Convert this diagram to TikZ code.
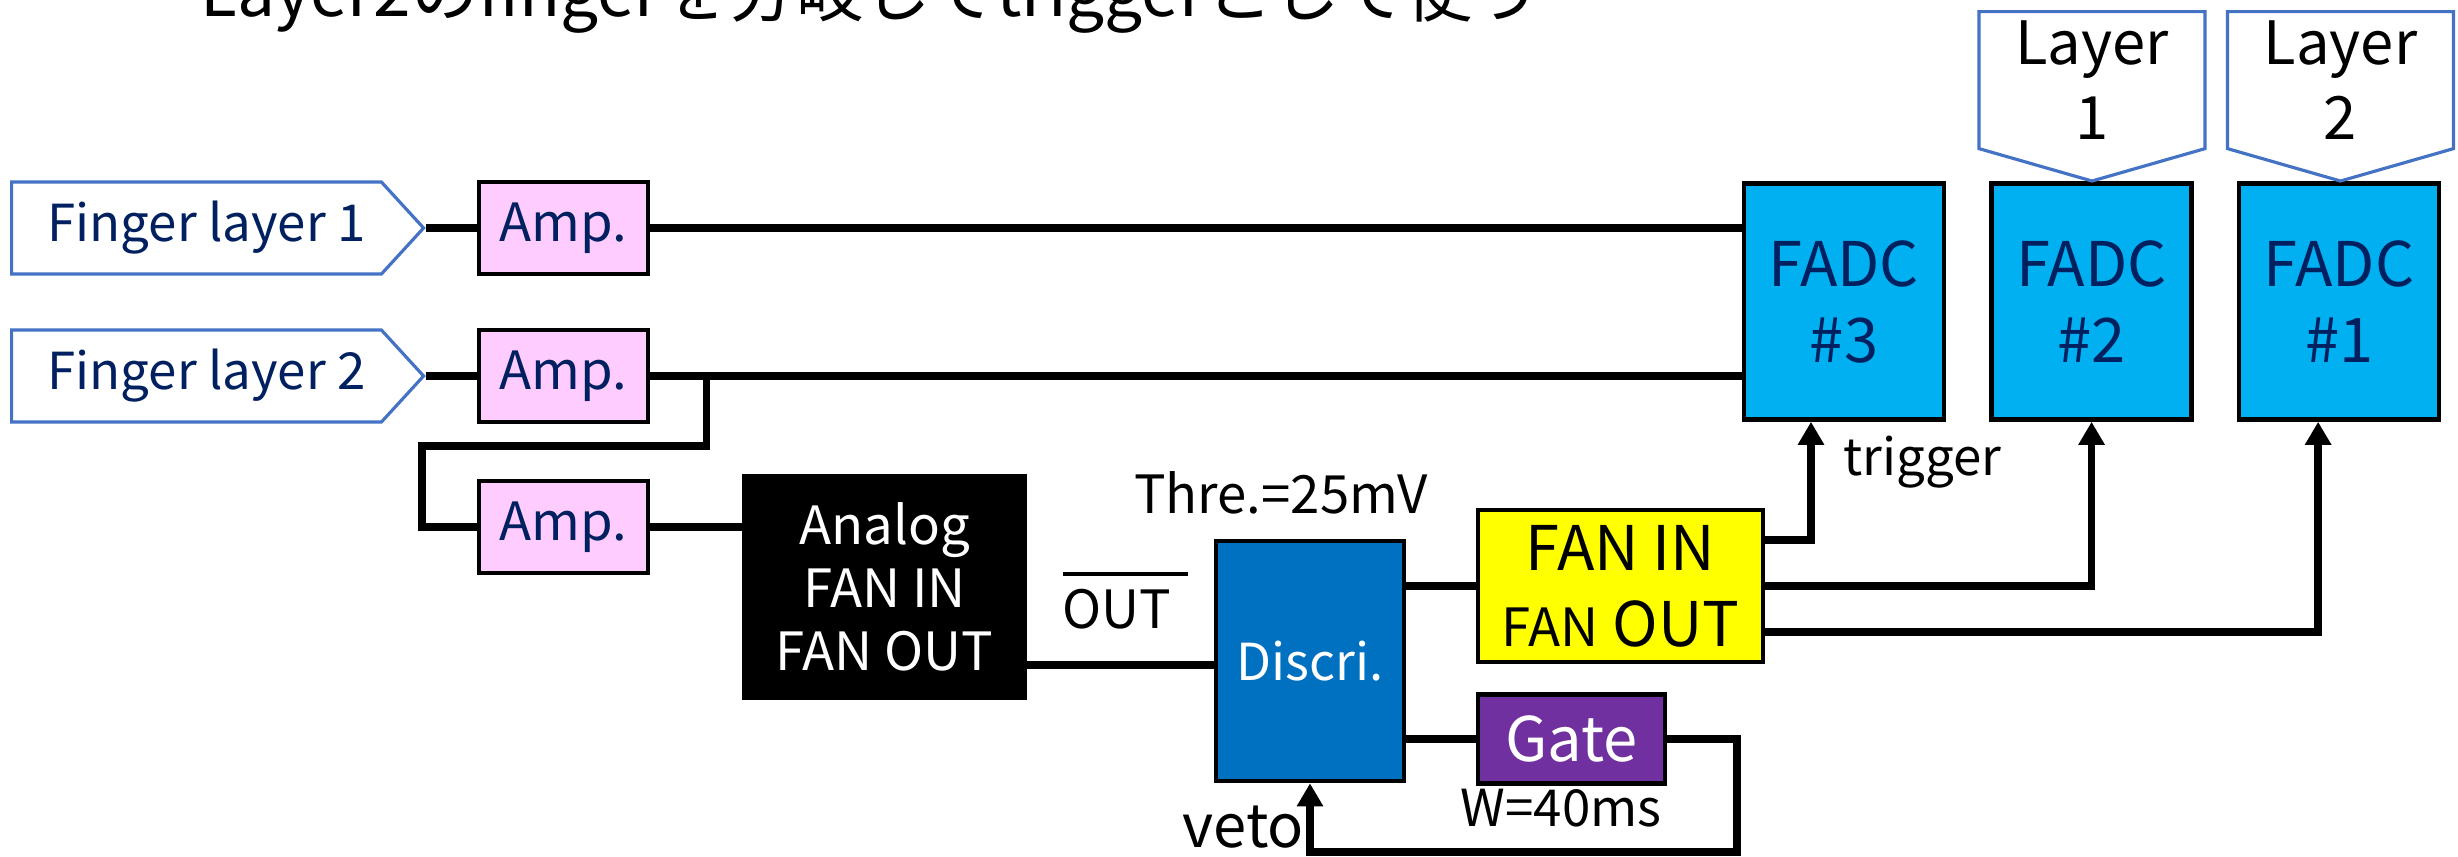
\documentclass[tikz,border=0pt]{standalone}
\usepackage{fontspec}
\setmainfont{Noto Sans CJK JP}
\usetikzlibrary{arrows.meta,positioning,calc,shapes.symbols}
\definecolor{FrameBlue}{HTML}{4472C4}
\definecolor{TextNavy}{HTML}{002060}
\definecolor{AmpPink}{HTML}{FFCCFF}
\definecolor{FadcCyan}{HTML}{00B0F0}
\definecolor{DiscBlue}{HTML}{0070C0}
\definecolor{GateViolet}{HTML}{7030A0}
\definecolor{FanYellow}{HTML}{FFFF00}
\newcommand{\fs}[2]{\fontsize{#1}{#2}\selectfont}
\newcommand{\barred}[1]{\leavevmode\vbox{\hrule height 1.1pt\kern 3.6pt\hbox{#1\kern 0.17cm}}}
\tikzset{
  fingerbox/.style={signal, signal to=east, signal pointer angle=95, draw=FrameBlue, fill=white, line width=0.9pt, minimum width=4.12cm, minimum height=0.92cm, text=TextNavy, font=\fs{14.5}{18}, execute at begin node=\hspace*{0.2cm}},
  layerbox/.style={signal, signal to=south, signal pointer angle=148, draw=FrameBlue, fill=white, line width=0.9pt, minimum width=2.26cm, minimum height=1.59cm, align=center, font=\fs{17}{21.3}},
  ampbox/.style={draw=black, fill=AmpPink, line width=1.1pt, minimum width=1.69cm, minimum height=0.92cm, text=TextNavy, font=\fs{15}{18}},
  fadcbox/.style={draw=black, fill=FadcCyan, line width=1.3pt, minimum width=2.0cm, minimum height=2.36cm, align=center, text=TextNavy, font=\fs{17.5}{21.6}},
  wire/.style={line width=2.2pt, draw=black},
  arrow/.style={wire, -{Triangle[length=2.3mm, width=2.5mm]}},
  tag/.style={font=\fs{15}{18}}
}
\begin{document}
\begin{tikzpicture}[every node/.style={inner sep=0pt}]
\useasboundingbox (0,0) rectangle (24.58,-8.56);
% title, cut by the top edge
\node[anchor=base west, font=\fs{19.2}{22}] (title) at (2.0,-0.16) {Layer2のfingerを分岐してtriggerとして使う};
% finger inputs and amplifiers
\node[fingerbox, anchor=west] (finger1) at (0.10,-2.28) {Finger layer 1};
\node[fingerbox, anchor=west] (finger2) at (0.10,-3.76) {Finger layer 2};
\node[ampbox, right=0.51cm of finger1] (amp1) {Amp.};
\node[ampbox, right=0.51cm of finger2] (amp2) {Amp.};
\node[ampbox, below=0.55cm of amp2] (amp3) {Amp.};
% trigger logic
\node[draw=black, fill=black, line width=1pt, minimum width=2.81cm, minimum height=2.22cm, align=center, text=white, font=\fs{15}{17.9}] (analog) at (8.845,-5.87) {Analog\\FAN IN\\FAN OUT};
\node[draw=black, fill=DiscBlue, line width=1.3pt, minimum width=1.88cm, minimum height=2.40cm, text=white, font=\fs{14.5}{18}] (discri) at (13.10,-6.61) {Discri.};
\node[draw=black, fill=FanYellow, line width=1.3pt, minimum width=2.85cm, minimum height=1.52cm, align=center, font=\fs{17.5}{21.6}] (fan) at (16.205,-5.86) {FAN IN\\{\fs{15}{18}FAN} OUT};
\node[draw=black, fill=GateViolet, line width=1.3pt, minimum width=1.87cm, minimum height=0.89cm, text=white, font=\fs{17.5}{21}, below=0.28cm of fan.south west, anchor=north west] (gate) {Gate};
% digitizers
\node[fadcbox] (fadc3) at (18.44,-3.015) {FADC\\\#3};
\node[fadcbox, right=0.43cm of fadc3] (fadc2) {FADC\\\#2};
\node[fadcbox, right=0.43cm of fadc2] (fadc1) {FADC\\\#1};
\node[layerbox, anchor=north] (layer1) at (20.92,-0.10) {Layer\\1};
\node[layerbox, anchor=north] (layer2) at (23.405,-0.10) {Layer\\2};
% labels
\node[tag, anchor=base] (thre) at (12.81,-5.13) {Thre.=25mV};
\node[tag, anchor=base west] (outbar) at (10.62,-6.28) {\barred{OUT}};
\node[tag, anchor=base west, font=\fs{14.5}{18}] (trig) at (18.43,-4.75) {trigger};
\node[anchor=base west, font=\fs{17}{20}] (veto) at (11.82,-8.47) {veto};
\node[tag, anchor=base, font=\fs{14.5}{18}] (width) at (15.61,-8.26) {W=40ms};
% signal lines
\coordinate (split) at ($(amp2.east)+(0.57,0)$);
\coordinate (bend) at (4.22,-4.46);
\coordinate (aout) at ([yshift=-0.78cm]analog.east);
\coordinate (loop) at (17.37,-8.52);
\draw[wire] (finger1.east) -- (amp1.west);
\draw[wire] (finger2.east) -- (amp2.west);
\draw[wire] (amp1.east) -- (amp1.east -| fadc3.west);
\draw[wire] (amp2.east) -- (amp2.east -| fadc3.west);
\draw[wire] (split) |- (bend) |- (amp3.west);
\draw[wire] (amp3.east) -- (amp3.east -| analog.west);
\draw[wire] (aout) -- (aout -| discri.west);
\draw[wire] (fan.west -| discri.east) -- (fan.west);
\draw[wire] (gate.west -| discri.east) -- (gate.west);
\draw[arrow] (gate.east) -| (loop) -| (discri.south);
\draw[arrow] ([yshift=0.46cm]fan.east) -| ([xshift=-0.33cm]fadc3.south);
\draw[arrow] (fan.east) -| (fadc2.south);
\draw[arrow] ([yshift=-0.46cm]fan.east) -| ([xshift=-0.21cm]fadc1.south);
\end{tikzpicture}
\end{document}
